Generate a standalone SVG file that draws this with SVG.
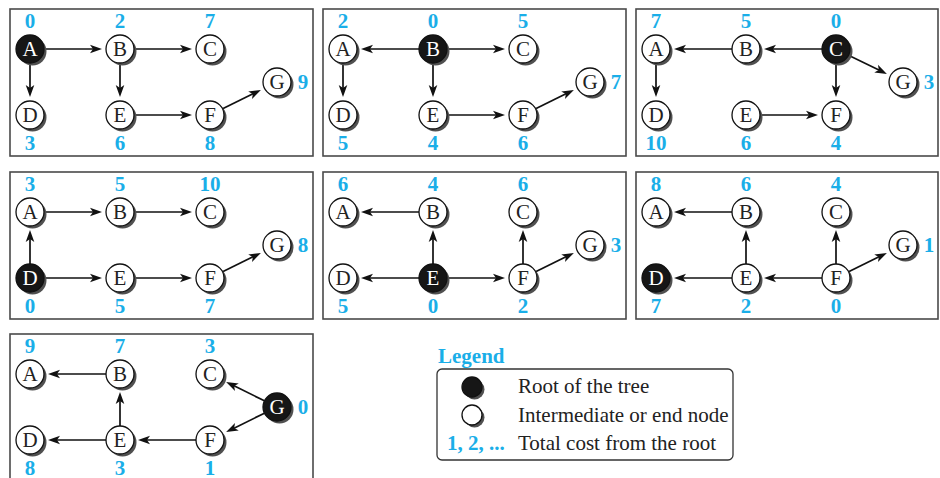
<svg xmlns="http://www.w3.org/2000/svg" width="940" height="478" viewBox="0 0 940 478">
<style>
.bg{fill:#fff}
.panel{fill:#fff;stroke:#4a4a4a;stroke-width:1.6}
.sh{fill:#505050}
.nw{fill:#fff;stroke:#111;stroke-width:1.3}
.nb{fill:#161616;stroke:#111;stroke-width:1.3}
.lt{font-family:"Liberation Serif","Times New Roman",serif;font-size:21px;text-anchor:middle;fill:#222}
.lw{fill:#fff}
.cost{font-family:"Liberation Serif","Times New Roman",serif;font-size:21px;font-weight:bold;fill:#1aaee8;text-anchor:middle}
.edge{stroke:#111;stroke-width:1.7;fill:none;marker-end:url(#ah)}
.leg{font-family:"Liberation Serif","Times New Roman",serif;font-size:21px;fill:#222}
.legbox{fill:#fff;stroke:#333;stroke-width:1.3}
</style>
<defs>
<marker id="ah" markerUnits="userSpaceOnUse" markerWidth="14" markerHeight="10" viewBox="0 -5 14 10" refX="6" refY="0" orient="auto">
<path d="M0,-4.3 L12,0 L0,4.3 L3,0 Z" fill="#111"/>
</marker>
</defs>
<rect class="bg" x="0" y="0" width="940" height="478"/>

<!-- Panel 1: root A -->
<g id="panel1" transform="translate(10,9)">
<rect class="panel" x="0" y="0" width="303" height="147"/>
<g id="p1-edges">
<line class="edge" x1="34" y1="40" x2="86" y2="40"/>
<line class="edge" x1="124" y1="40" x2="176" y2="40"/>
<line class="edge" x1="20" y1="54" x2="20" y2="82"/>
<line class="edge" x1="110" y1="54" x2="110" y2="82"/>
<line class="edge" x1="124" y1="106" x2="176" y2="106"/>
<line class="edge" x1="212.6" y1="99.8" x2="245.5" y2="83.6"/>
</g>
<g id="p1-A"><circle class="sh" cx="22.5" cy="42.5" r="14"/><circle class="nb" cx="20" cy="40" r="14"/><text class="lt lw" x="20" y="47">A</text><text class="cost" x="20" y="19">0</text></g>
<g id="p1-B"><circle class="sh" cx="112.5" cy="42.5" r="14"/><circle class="nw" cx="110" cy="40" r="14"/><text class="lt" x="110" y="47">B</text><text class="cost" x="110" y="19">2</text></g>
<g id="p1-C"><circle class="sh" cx="202.5" cy="42.5" r="14"/><circle class="nw" cx="200" cy="40" r="14"/><text class="lt" x="200" y="47">C</text><text class="cost" x="200" y="19">7</text></g>
<g id="p1-D"><circle class="sh" cx="22.5" cy="108.5" r="14"/><circle class="nw" cx="20" cy="106" r="14"/><text class="lt" x="20" y="113">D</text><text class="cost" x="20" y="141">3</text></g>
<g id="p1-E"><circle class="sh" cx="112.5" cy="108.5" r="14"/><circle class="nw" cx="110" cy="106" r="14"/><text class="lt" x="110" y="113">E</text><text class="cost" x="110" y="141">6</text></g>
<g id="p1-F"><circle class="sh" cx="202.5" cy="108.5" r="14"/><circle class="nw" cx="200" cy="106" r="14"/><text class="lt" x="200" y="113">F</text><text class="cost" x="200" y="141">8</text></g>
<g id="p1-G"><circle class="sh" cx="269.5" cy="75.5" r="14"/><circle class="nw" cx="267" cy="73" r="14"/><text class="lt" x="267" y="80">G</text><text class="cost" x="293" y="80">9</text></g>
</g>

<!-- Panel 2: root B -->
<g id="panel2" transform="translate(323,9)">
<rect class="panel" x="0" y="0" width="303" height="147"/>
<g id="p2-edges">
<line class="edge" x1="96" y1="40" x2="44" y2="40"/>
<line class="edge" x1="124" y1="40" x2="176" y2="40"/>
<line class="edge" x1="20" y1="54" x2="20" y2="82"/>
<line class="edge" x1="110" y1="54" x2="110" y2="82"/>
<line class="edge" x1="124" y1="106" x2="176" y2="106"/>
<line class="edge" x1="212.6" y1="99.8" x2="245.5" y2="83.6"/>
</g>
<g id="p2-A"><circle class="sh" cx="22.5" cy="42.5" r="14"/><circle class="nw" cx="20" cy="40" r="14"/><text class="lt" x="20" y="47">A</text><text class="cost" x="20" y="19">2</text></g>
<g id="p2-B"><circle class="sh" cx="112.5" cy="42.5" r="14"/><circle class="nb" cx="110" cy="40" r="14"/><text class="lt lw" x="110" y="47">B</text><text class="cost" x="110" y="19">0</text></g>
<g id="p2-C"><circle class="sh" cx="202.5" cy="42.5" r="14"/><circle class="nw" cx="200" cy="40" r="14"/><text class="lt" x="200" y="47">C</text><text class="cost" x="200" y="19">5</text></g>
<g id="p2-D"><circle class="sh" cx="22.5" cy="108.5" r="14"/><circle class="nw" cx="20" cy="106" r="14"/><text class="lt" x="20" y="113">D</text><text class="cost" x="20" y="141">5</text></g>
<g id="p2-E"><circle class="sh" cx="112.5" cy="108.5" r="14"/><circle class="nw" cx="110" cy="106" r="14"/><text class="lt" x="110" y="113">E</text><text class="cost" x="110" y="141">4</text></g>
<g id="p2-F"><circle class="sh" cx="202.5" cy="108.5" r="14"/><circle class="nw" cx="200" cy="106" r="14"/><text class="lt" x="200" y="113">F</text><text class="cost" x="200" y="141">6</text></g>
<g id="p2-G"><circle class="sh" cx="269.5" cy="75.5" r="14"/><circle class="nw" cx="267" cy="73" r="14"/><text class="lt" x="267" y="80">G</text><text class="cost" x="293" y="80">7</text></g>
</g>

<!-- Panel 3: root C -->
<g id="panel3" transform="translate(636,9)">
<rect class="panel" x="0" y="0" width="302" height="147"/>
<g id="p3-edges">
<line class="edge" x1="186" y1="40" x2="134" y2="40"/>
<line class="edge" x1="96" y1="40" x2="44" y2="40"/>
<line class="edge" x1="20" y1="54" x2="20" y2="82"/>
<line class="edge" x1="200" y1="54" x2="200" y2="82"/>
<line class="edge" x1="124" y1="106" x2="176" y2="106"/>
<line class="edge" x1="212.5" y1="46.3" x2="245.5" y2="62.3"/>
</g>
<g id="p3-A"><circle class="sh" cx="22.5" cy="42.5" r="14"/><circle class="nw" cx="20" cy="40" r="14"/><text class="lt" x="20" y="47">A</text><text class="cost" x="20" y="19">7</text></g>
<g id="p3-B"><circle class="sh" cx="112.5" cy="42.5" r="14"/><circle class="nw" cx="110" cy="40" r="14"/><text class="lt" x="110" y="47">B</text><text class="cost" x="110" y="19">5</text></g>
<g id="p3-C"><circle class="sh" cx="202.5" cy="42.5" r="14"/><circle class="nb" cx="200" cy="40" r="14"/><text class="lt lw" x="200" y="47">C</text><text class="cost" x="200" y="19">0</text></g>
<g id="p3-D"><circle class="sh" cx="22.5" cy="108.5" r="14"/><circle class="nw" cx="20" cy="106" r="14"/><text class="lt" x="20" y="113">D</text><text class="cost" x="20" y="141">10</text></g>
<g id="p3-E"><circle class="sh" cx="112.5" cy="108.5" r="14"/><circle class="nw" cx="110" cy="106" r="14"/><text class="lt" x="110" y="113">E</text><text class="cost" x="110" y="141">6</text></g>
<g id="p3-F"><circle class="sh" cx="202.5" cy="108.5" r="14"/><circle class="nw" cx="200" cy="106" r="14"/><text class="lt" x="200" y="113">F</text><text class="cost" x="200" y="141">4</text></g>
<g id="p3-G"><circle class="sh" cx="269.5" cy="75.5" r="14"/><circle class="nw" cx="267" cy="73" r="14"/><text class="lt" x="267" y="80">G</text><text class="cost" x="293" y="80">3</text></g>
</g>

<!-- Panel 4: root D -->
<g id="panel4" transform="translate(10,172)">
<rect class="panel" x="0" y="0" width="303" height="147"/>
<g id="p4-edges">
<line class="edge" x1="20" y1="92" x2="20" y2="64"/>
<line class="edge" x1="34" y1="40" x2="86" y2="40"/>
<line class="edge" x1="124" y1="40" x2="176" y2="40"/>
<line class="edge" x1="34" y1="106" x2="86" y2="106"/>
<line class="edge" x1="124" y1="106" x2="176" y2="106"/>
<line class="edge" x1="212.6" y1="99.8" x2="245.5" y2="83.6"/>
</g>
<g id="p4-A"><circle class="sh" cx="22.5" cy="42.5" r="14"/><circle class="nw" cx="20" cy="40" r="14"/><text class="lt" x="20" y="47">A</text><text class="cost" x="20" y="19">3</text></g>
<g id="p4-B"><circle class="sh" cx="112.5" cy="42.5" r="14"/><circle class="nw" cx="110" cy="40" r="14"/><text class="lt" x="110" y="47">B</text><text class="cost" x="110" y="19">5</text></g>
<g id="p4-C"><circle class="sh" cx="202.5" cy="42.5" r="14"/><circle class="nw" cx="200" cy="40" r="14"/><text class="lt" x="200" y="47">C</text><text class="cost" x="200" y="19">10</text></g>
<g id="p4-D"><circle class="sh" cx="22.5" cy="108.5" r="14"/><circle class="nb" cx="20" cy="106" r="14"/><text class="lt lw" x="20" y="113">D</text><text class="cost" x="20" y="141">0</text></g>
<g id="p4-E"><circle class="sh" cx="112.5" cy="108.5" r="14"/><circle class="nw" cx="110" cy="106" r="14"/><text class="lt" x="110" y="113">E</text><text class="cost" x="110" y="141">5</text></g>
<g id="p4-F"><circle class="sh" cx="202.5" cy="108.5" r="14"/><circle class="nw" cx="200" cy="106" r="14"/><text class="lt" x="200" y="113">F</text><text class="cost" x="200" y="141">7</text></g>
<g id="p4-G"><circle class="sh" cx="269.5" cy="75.5" r="14"/><circle class="nw" cx="267" cy="73" r="14"/><text class="lt" x="267" y="80">G</text><text class="cost" x="293" y="80">8</text></g>
</g>

<!-- Panel 5: root E -->
<g id="panel5" transform="translate(323,172)">
<rect class="panel" x="0" y="0" width="303" height="147"/>
<g id="p5-edges">
<line class="edge" x1="96" y1="40" x2="44" y2="40"/>
<line class="edge" x1="110" y1="92" x2="110" y2="64"/>
<line class="edge" x1="96" y1="106" x2="44" y2="106"/>
<line class="edge" x1="124" y1="106" x2="176" y2="106"/>
<line class="edge" x1="200" y1="92" x2="200" y2="64"/>
<line class="edge" x1="212.6" y1="99.8" x2="245.5" y2="83.6"/>
</g>
<g id="p5-A"><circle class="sh" cx="22.5" cy="42.5" r="14"/><circle class="nw" cx="20" cy="40" r="14"/><text class="lt" x="20" y="47">A</text><text class="cost" x="20" y="19">6</text></g>
<g id="p5-B"><circle class="sh" cx="112.5" cy="42.5" r="14"/><circle class="nw" cx="110" cy="40" r="14"/><text class="lt" x="110" y="47">B</text><text class="cost" x="110" y="19">4</text></g>
<g id="p5-C"><circle class="sh" cx="202.5" cy="42.5" r="14"/><circle class="nw" cx="200" cy="40" r="14"/><text class="lt" x="200" y="47">C</text><text class="cost" x="200" y="19">6</text></g>
<g id="p5-D"><circle class="sh" cx="22.5" cy="108.5" r="14"/><circle class="nw" cx="20" cy="106" r="14"/><text class="lt" x="20" y="113">D</text><text class="cost" x="20" y="141">5</text></g>
<g id="p5-E"><circle class="sh" cx="112.5" cy="108.5" r="14"/><circle class="nb" cx="110" cy="106" r="14"/><text class="lt lw" x="110" y="113">E</text><text class="cost" x="110" y="141">0</text></g>
<g id="p5-F"><circle class="sh" cx="202.5" cy="108.5" r="14"/><circle class="nw" cx="200" cy="106" r="14"/><text class="lt" x="200" y="113">F</text><text class="cost" x="200" y="141">2</text></g>
<g id="p5-G"><circle class="sh" cx="269.5" cy="75.5" r="14"/><circle class="nw" cx="267" cy="73" r="14"/><text class="lt" x="267" y="80">G</text><text class="cost" x="293" y="80">3</text></g>
</g>

<!-- Panel 6: root F -->
<g id="panel6" transform="translate(636,172)">
<rect class="panel" x="0" y="0" width="302" height="147"/>
<g id="p6-edges">
<line class="edge" x1="96" y1="40" x2="44" y2="40"/>
<line class="edge" x1="110" y1="92" x2="110" y2="64"/>
<line class="edge" x1="96" y1="106" x2="44" y2="106"/>
<line class="edge" x1="186" y1="106" x2="134" y2="106"/>
<line class="edge" x1="200" y1="92" x2="200" y2="64"/>
<line class="edge" x1="212.6" y1="99.8" x2="245.5" y2="83.6"/>
</g>
<g id="p6-A"><circle class="sh" cx="22.5" cy="42.5" r="14"/><circle class="nw" cx="20" cy="40" r="14"/><text class="lt" x="20" y="47">A</text><text class="cost" x="20" y="19">8</text></g>
<g id="p6-B"><circle class="sh" cx="112.5" cy="42.5" r="14"/><circle class="nw" cx="110" cy="40" r="14"/><text class="lt" x="110" y="47">B</text><text class="cost" x="110" y="19">6</text></g>
<g id="p6-C"><circle class="sh" cx="202.5" cy="42.5" r="14"/><circle class="nw" cx="200" cy="40" r="14"/><text class="lt" x="200" y="47">C</text><text class="cost" x="200" y="19">4</text></g>
<g id="p6-D"><circle class="sh" cx="22.5" cy="108.5" r="14"/><circle class="nb" cx="20" cy="106" r="14"/><text class="lt lw" x="20" y="113">D</text><text class="cost" x="20" y="141">7</text></g>
<g id="p6-E"><circle class="sh" cx="112.5" cy="108.5" r="14"/><circle class="nw" cx="110" cy="106" r="14"/><text class="lt" x="110" y="113">E</text><text class="cost" x="110" y="141">2</text></g>
<g id="p6-F"><circle class="sh" cx="202.5" cy="108.5" r="14"/><circle class="nw" cx="200" cy="106" r="14"/><text class="lt" x="200" y="113">F</text><text class="cost" x="200" y="141">0</text></g>
<g id="p6-G"><circle class="sh" cx="269.5" cy="75.5" r="14"/><circle class="nw" cx="267" cy="73" r="14"/><text class="lt" x="267" y="80">G</text><text class="cost" x="293" y="80">1</text></g>
</g>

<!-- Panel 7: root G -->
<g id="panel7" transform="translate(10,334)">
<rect class="panel" x="0" y="0" width="303" height="160"/>
<g id="p7-edges">
<line class="edge" x1="96" y1="40" x2="44" y2="40"/>
<line class="edge" x1="110" y1="92" x2="110" y2="64"/>
<line class="edge" x1="96" y1="106" x2="44" y2="106"/>
<line class="edge" x1="186" y1="106" x2="134" y2="106"/>
<line class="edge" x1="254.4" y1="66.8" x2="221.5" y2="50.6"/>
<line class="edge" x1="254.4" y1="79.2" x2="221.5" y2="95.4"/>
</g>
<g id="p7-A"><circle class="sh" cx="22.5" cy="42.5" r="14"/><circle class="nw" cx="20" cy="40" r="14"/><text class="lt" x="20" y="47">A</text><text class="cost" x="20" y="19">9</text></g>
<g id="p7-B"><circle class="sh" cx="112.5" cy="42.5" r="14"/><circle class="nw" cx="110" cy="40" r="14"/><text class="lt" x="110" y="47">B</text><text class="cost" x="110" y="19">7</text></g>
<g id="p7-C"><circle class="sh" cx="202.5" cy="42.5" r="14"/><circle class="nw" cx="200" cy="40" r="14"/><text class="lt" x="200" y="47">C</text><text class="cost" x="200" y="19">3</text></g>
<g id="p7-D"><circle class="sh" cx="22.5" cy="108.5" r="14"/><circle class="nw" cx="20" cy="106" r="14"/><text class="lt" x="20" y="113">D</text><text class="cost" x="20" y="141">8</text></g>
<g id="p7-E"><circle class="sh" cx="112.5" cy="108.5" r="14"/><circle class="nw" cx="110" cy="106" r="14"/><text class="lt" x="110" y="113">E</text><text class="cost" x="110" y="141">3</text></g>
<g id="p7-F"><circle class="sh" cx="202.5" cy="108.5" r="14"/><circle class="nw" cx="200" cy="106" r="14"/><text class="lt" x="200" y="113">F</text><text class="cost" x="200" y="141">1</text></g>
<g id="p7-G"><circle class="sh" cx="269.5" cy="75.5" r="14"/><circle class="nb" cx="267" cy="73" r="14"/><text class="lt lw" x="267" y="80">G</text><text class="cost" x="293" y="80">0</text></g>
</g>

<!-- Legend -->
<g id="legend">
<text class="cost" x="438" y="363" style="text-anchor:start">Legend</text>
<rect class="legbox" x="437" y="369" width="296" height="91" rx="5"/>
<g id="legend-root"><circle class="sh" cx="474.5" cy="389.5" r="10"/><circle class="nb" cx="472" cy="387" r="10"/><text class="leg" x="518" y="393">Root of the tree</text></g>
<g id="legend-node"><circle class="sh" cx="474.5" cy="417.5" r="10"/><circle class="nw" cx="472" cy="415" r="10"/><text class="leg" x="518" y="422">Intermediate or end node</text></g>
<g id="legend-cost"><text class="cost" x="447" y="450" style="text-anchor:start">1, 2, ...</text><text class="leg" x="518" y="450">Total cost from the root</text></g>
</g>
</svg>
